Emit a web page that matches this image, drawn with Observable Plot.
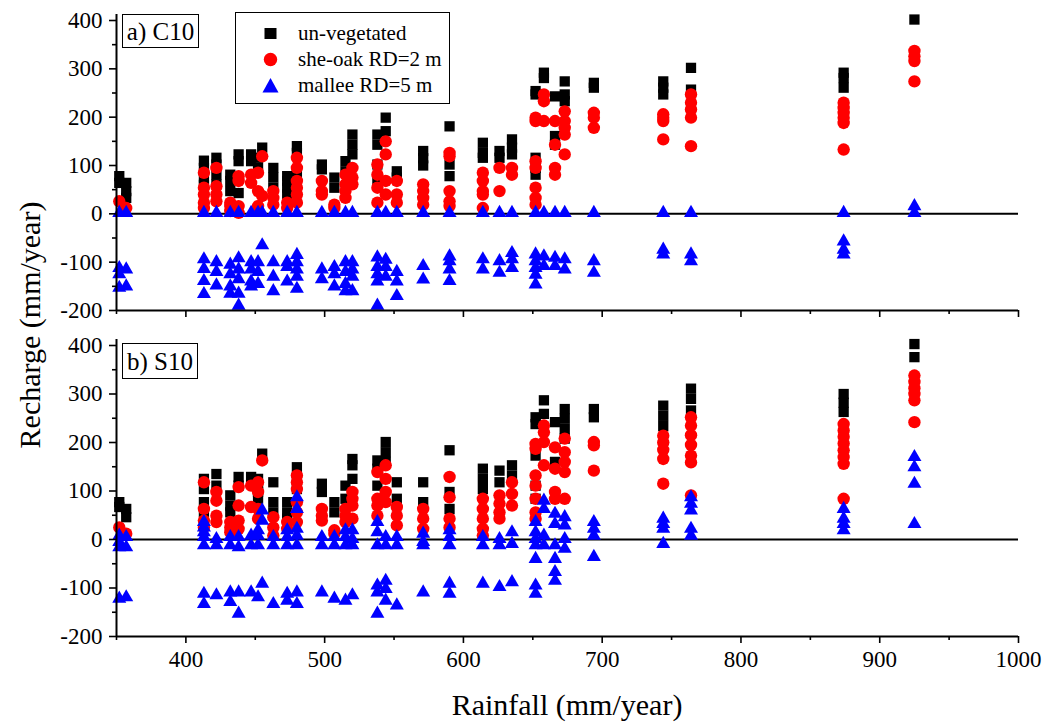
<!DOCTYPE html>
<html>
<head>
<meta charset="utf-8">
<script src="https://cdn.jsdelivr.net/npm/d3@7"></script>
<script src="https://cdn.jsdelivr.net/npm/@observablehq/plot@0.6"></script>
<style>
  body { margin: 0; background: #fff; }
  #wrap { position: relative; width: 1052px; height: 725px; font-family: "Times New Roman", "Liberation Serif", Tinos, serif; color: #000; }
  .panel { position: absolute; left: 0; }
  .tag { position: absolute; border: 1px solid #000; background: #fff; font-size: 25px; line-height: 1; box-sizing: border-box; }
  .legend { position: absolute; border: 1px solid #000; background: #fff; box-sizing: border-box; }
  .legend .row { position: absolute; left: 0; height: 26px; display: flex; align-items: center; font-size: 21px; }
  .legend svg { position: absolute; left: 25px; }
  .legend span { position: absolute; left: 62px; white-space: nowrap; }
  .ytitle { position: absolute; left: 30px; top: 325px; transform: translate(-50%, -50%) rotate(-90deg); font-size: 30px; white-space: nowrap; }
  .xtitle { position: absolute; left: 567px; top: 705px; transform: translate(-50%, -50%); font-size: 30px; white-space: nowrap; }
</style>
</head>
<body>
<div id="wrap"></div>
<script>
// ---- data ----
const rainfall = [352, 357, 413, 422, 432, 438, 447, 452, 455, 463, 473, 480, 498, 507, 515, 520, 538, 544, 552, 571, 590, 614, 626, 635, 652, 658, 666, 673, 694, 744, 764, 874, 925];

const seriesNames = ["un-vegetated", "she-oak RD=2 m", "mallee RD=5 m"];
const panelNames = ["a) C10", "b) S10"];

// Panel a) C10
const aBare = [[78,64],[64,47,33],[110,95,75,60],[116,102,81,61],[81,68,47],[123,109,43],[123,109],[116,95],[137],[95,75,54],[78,68,54,40],[140,126,81],[102,92],[75,54],[109,88],[164,143,123],[164,143,102,68],[199,171],[88,75],[130,115,100],[181,102,78],[147,126,116],[130,116],[154,137,123],[254,247,116,95,81],[292,281],[243,161,143],[274,247,233],[271,261],[274,261,247],[302,257],[292,281,261],[402]];
const aSheoak = [[26],[12],[85,54,40,23,12],[95,57,40,26],[23,16,6],[78,68,16,2],[81,64],[85,47,16],[119,37],[47,33,19],[23,12],[116,95,68,54,40,23],[68,47,40],[19,12],[81,61,47,33],[95,75,61],[102,81,54,23],[150,123,68,40],[68,40,23],[61,47,33,19],[126,119,47,26,16],[85,68,47,40,12],[95,47],[95,81],[199,192,109,95,54,33,19],[247,233,192],[192,143,95,81],[212,192,178,164,123],[209,199,178],[206,199,192,154],[247,230,216,199,140],[230,219,209,199,188,133],[337,326,316,274]];
const aMallee = [[2,-112,-125,-153],[2,-115,-150],[2,-94,-114,-139,-166],[2,-100,-120,-148],[2,-105,-125,-150,-165],[2,-92,-115,-135,-165,-190],[2,-100,-115,-140,-150],[2,-100,-120,-145],[2,-65],[2,-100,-130,-160],[2,-100,-110,-140],[2,-85,-100,-115,-130,-155],[2,-115,-135],[2,-110,-125,-150],[2,-100,-120,-145,-160],[2,-100,-115,-130,-160],[2,-90,-110,-125,-140,-190],[2,-95,-110,-130],[2,-120,-140,-170],[2,-108,-136],[2,-88,-98,-115,-139],[2,-94,-115],[2,-98,-122],[2,-81,-94,-112],[2,-84,-98,-112,-126,-146],[2,-88,-108],[2,-91,-108],[2,-94,-115],[2,-98,-122],[2,-74,-84],[2,-84,-98],[2,-57,-74,-84],[16,2]];

// Panel b) S10
const bBare = [[77,67],[63,46],[125,104,77,56],[135,111],[91,70,56],[129,111],[129],[125,111,98,84],[177],[118,77,56],[77,56,43],[149,125,104],[115,98],[77,56],[111,84],[166,153,125],[163,146,111],[201,180,160],[118,84],[118,77],[184,98,63],[146,125,104],[142,118],[153,132],[252,238,173,111,84],[287,259],[242,160],[269,249,228,208],[269,252],[276,255,234],[311,290,266],[300,282,263],[403,376]];
const bSheoak = [[25],[12],[118,63,39,25],[98,80,49,36],[36,25,15],[108,70,39,22],[111,67],[118,98,63,43],[163],[46,25,8],[36,22],[132,118,104,77,56,36],[63,49,39],[19,12],[63,49,36],[98,84,70,43],[139,84,70,49],[153,125,98,77],[67,49,29],[63,43,22],[129,87,43,25],[84,63,43,22,8],[91,74,56,43],[118,94,70],[197,187,132,111,84,56,43],[235,221,201,153],[190,146,98,84],[208,180,160,139,84],[201,194,142],[214,200,185,166,115],[252,235,215,195,173,159,91],[238,225,212,198,184,170,156,84],[338,325,312,300,287,242]];
const bMallee = [[8,-5,-16,-122],[5,-16,-119],[36,25,15,5,-12,-112,-133],[1,-12,-115],[5,-12,-109,-129],[5,-16,-109,-153],[8,-12,-109],[19,8,-12,-119],[60,39,-91],[5,-12,-133],[19,5,-12,-112,-126],[87,63,22,8,-12,-109,-133],[5,-12,-109],[5,-12,-122],[19,5,-12,-126],[19,1,-12,-115],[36,15,-12,-95,-109,-153],[5,-12,-85,-102,-126],[5,-12,-136],[12,-5,-12,-109],[19,5,-12,-91,-112],[5,-12,-91],[1,-12,-98],[15,-9,-88],[36,15,1,-12,-40,-95,-112],[80,63,8,-12],[53,32,-12,-40,-67,-85],[46,29,1,-19],[36,22,8,-36],[43,32,22,-9],[87,74,60,22,8],[63,43,32,19],[170,149,115,32]];

// axes
const xDomain = [350, 1000];
const yDomain = [-200, 400];
const xMajor = [400, 500, 600, 700, 800, 900, 1000];
const xMinor = [350, 450, 550, 650, 750, 850, 950];
const yMajor = [-200, -100, 0, 100, 200, 300, 400];
const yMinor = [-150, -50, 50, 150, 250, 350];

// ---- build ----
const FONT = '"Times New Roman", "Liberation Serif", Tinos, serif';
const styles = [
  {symbol: "square", r: 5.8, fill: "#000000"},
  {symbol: "circle", r: 6.2, fill: "#ff0000"},
  {symbol: "triangle", r: 5.2, fill: "#0000ff"}
];

function flatten(cols) {
  const out = [];
  cols.forEach((vals, i) => vals.forEach(v => out.push({r: rainfall[i], v})));
  return out;
}

function panel(seriesCols, opts) {
  const marks = [
    Plot.ruleY([0], {stroke: "#000", strokeWidth: 2}),
    ...seriesCols.map((cols, k) => Plot.dot(flatten(cols), {x: "r", y: "v", ...styles[k]})),
    Plot.ruleX([xDomain[0]], {stroke: "#000", strokeWidth: 2, insetTop: -6}),
    Plot.ruleY([yDomain[0]], {stroke: "#000", strokeWidth: 2}),
    Plot.axisY({ticks: yMajor, tickSize: 7, tickPadding: 7, strokeWidth: 1.6, label: null, tickFormat: d => String(d), fontSize: 23}),
    Plot.axisY({ticks: yMinor, tickSize: 4, strokeWidth: 1.6, label: null, tickFormat: () => ""}),
    Plot.axisX({ticks: xMajor, tickSize: 7, tickPadding: 7, strokeWidth: 1.6, label: null, tickFormat: opts.xLabels ? (d => String(d)) : () => "", fontSize: 23}),
    Plot.axisX({ticks: xMinor, tickSize: 4, strokeWidth: 1.6, label: null, tickFormat: () => ""})
  ];
  return Plot.plot({
    width: 1052,
    height: opts.height,
    marginLeft: 116,
    marginRight: 34,
    marginTop: opts.top,
    marginBottom: opts.bottom,
    style: {fontFamily: FONT, fontSize: "23px", color: "#000", background: "transparent", overflow: "visible"},
    x: {domain: xDomain},
    y: {domain: yDomain},
    marks
  });
}

const wrap = document.getElementById("wrap");

const pa = panel([aBare, aSheoak, aMallee], {height: 330, top: 20, bottom: 20, xLabels: false});
const da = document.createElement("div"); da.className = "panel"; da.style.top = "0px"; da.appendChild(pa); wrap.appendChild(da);

const pb = panel([bBare, bSheoak, bMallee], {height: 395, top: 15, bottom: 89, xLabels: true});
const db = document.createElement("div"); db.className = "panel"; db.style.top = "330px"; db.appendChild(pb); wrap.appendChild(db);

// panel tags
[[panelNames[0], 122, 14, 77, 34], [panelNames[1], 122, 343, 76, 36]].forEach(([t, l, tp, w, h]) => {
  const d = document.createElement("div");
  d.className = "tag";
  d.textContent = t;
  Object.assign(d.style, {left: l + "px", top: tp + "px", width: w + "px", height: h + "px", display: "flex", alignItems: "center", justifyContent: "center"});
  wrap.appendChild(d);
});

// legend
const lg = document.createElement("div");
lg.className = "legend";
Object.assign(lg.style, {left: "235px", top: "12px", width: "215px", height: "92px"});
const symPaths = [
  '<rect x="3.5" y="3" width="12" height="11" fill="#000"/>',
  '<circle cx="9.5" cy="8.5" r="6.7" fill="#ff0000"/>',
  '<path d="M9.5 1 L17.5 15.5 L1.5 15.5 Z" fill="#0000ff"/>'
];
seriesNames.forEach((name, i) => {
  const row = document.createElement("div");
  row.className = "row";
  row.style.top = (7 + i * 26) + "px";
  row.style.width = "100%";
  row.innerHTML = `<svg width="19" height="17" viewBox="0 0 19 17">${symPaths[i]}</svg><span>${name}</span>`;
  lg.appendChild(row);
});
wrap.appendChild(lg);

// axis titles
const yt = document.createElement("div"); yt.className = "ytitle"; yt.textContent = "Recharge (mm/year)"; wrap.appendChild(yt);
const xt = document.createElement("div"); xt.className = "xtitle"; xt.textContent = "Rainfall (mm/year)"; wrap.appendChild(xt);
</script>
</body>
</html>
